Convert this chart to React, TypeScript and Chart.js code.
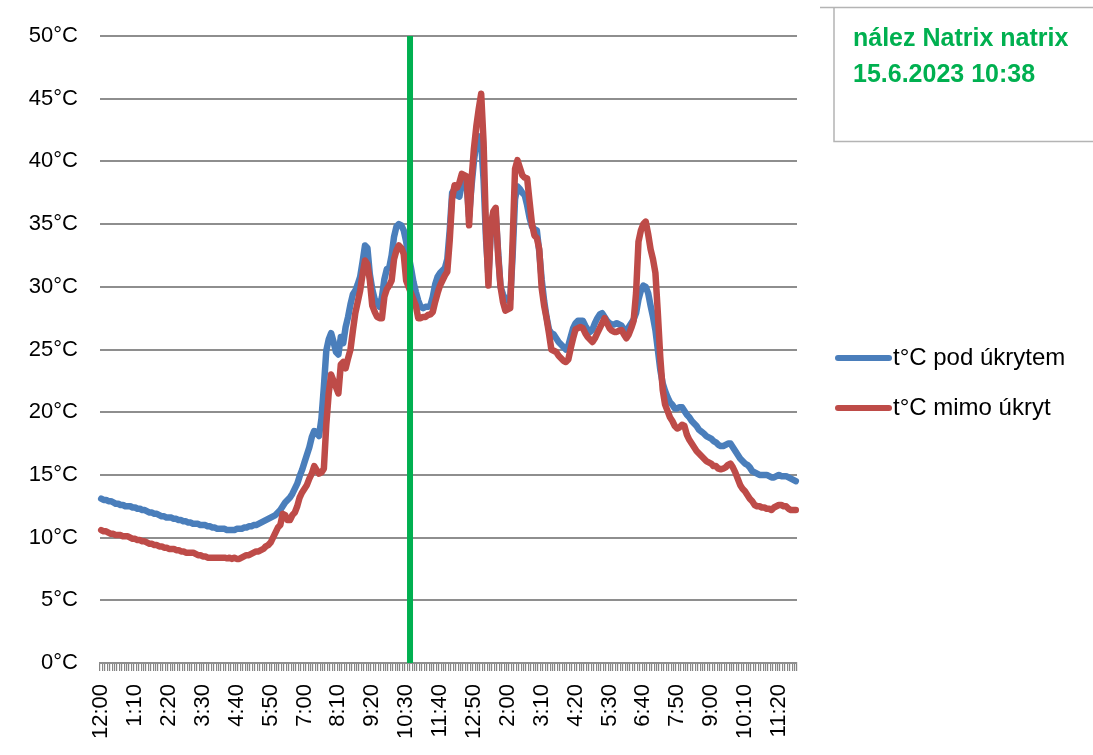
import React, { useEffect, useRef } from 'react';
import { Chart, registerables } from 'chart.js';

Chart.register(...registerables);

// Categories: every 5 minutes over one day (12-hour clock as in the source)
const TIME_LABELS: string[] = (() => {
  const out: string[] = [];
  for (let m = 0; m < 24 * 60; m += 5) {
    let h = Math.floor(m / 60) % 12;
    if (h === 0) h = 12;
    out.push(`${h}:${String(m % 60).padStart(2, '0')}`);
  }
  return out;
})();
const LABEL_EVERY = 14;

const SERIES_NAMES = ['t°C pod úkrytem', 't°C mimo úkryt'];

const POD_UKRYTEM: number[] = [
  13.1, 13.0, 13.0, 12.9, 12.9, 12.8, 12.7, 12.7, 12.6, 12.6,
  12.5, 12.5, 12.5, 12.4, 12.4, 12.3, 12.3, 12.2, 12.2, 12.1,
  12.0, 12.0, 11.9, 11.9, 11.8, 11.7, 11.7, 11.6, 11.6, 11.6,
  11.5, 11.5, 11.4, 11.4, 11.3, 11.3, 11.2, 11.2, 11.1, 11.1,
  11.1, 11.0, 11.0, 11.0, 10.9, 10.9, 10.8, 10.8, 10.7, 10.7,
  10.7, 10.7, 10.6, 10.6, 10.6, 10.6, 10.7, 10.7, 10.7, 10.8,
  10.8, 10.9, 10.9, 11.0, 11.0, 11.1, 11.2, 11.3, 11.4, 11.5,
  11.6, 11.7, 11.8, 12.0, 12.2, 12.5, 12.8, 13.0, 13.2, 13.5,
  13.9, 14.3, 14.9, 15.4, 16.0, 16.6, 17.2, 18.0, 18.5, 18.4,
  18.1, 19.5, 22.0, 24.9, 25.8, 26.3, 25.6, 24.8, 24.6, 26.0,
  25.5, 26.8, 27.6, 28.6, 29.4, 29.7, 30.2, 30.8, 32.0, 33.3,
  33.1, 31.0, 29.8, 29.0, 28.7, 28.4, 29.2, 30.6, 31.4, 31.5,
  32.5, 34.0, 34.8, 35.0, 34.9, 34.5, 33.6, 32.5, 31.5, 30.4,
  29.6, 28.9, 28.4, 28.3, 28.4, 28.4, 28.5, 29.2, 30.2, 30.8,
  31.1, 31.3, 31.5, 32.2, 34.5, 37.5, 37.8, 37.3, 37.2, 38.2,
  38.3, 38.2, 35.6, 38.0, 40.0, 41.5, 42.0, 41.5, 38.5, 33.8,
  30.8, 34.5, 35.8, 35.8, 32.8, 30.0, 29.4, 29.0, 28.9, 29.0,
  32.5, 37.0, 38.0, 37.8, 37.5, 37.3, 36.5, 35.5, 34.8, 34.6,
  34.5, 32.8, 30.6, 28.9, 27.6, 26.6, 26.3, 26.2, 25.9, 25.6,
  25.4, 25.2, 25.0, 25.3, 26.0, 26.7, 27.1, 27.3, 27.3, 27.3,
  26.9, 26.6, 26.4, 26.6, 27.1, 27.5, 27.8, 27.9, 27.6, 27.3,
  27.1, 27.0, 27.0, 27.1, 27.0, 26.9, 26.6, 26.4, 26.8, 27.1,
  27.4, 27.9, 29.0, 29.7, 30.1, 30.0, 29.5, 28.5, 27.6, 26.55,
  25.0, 23.4, 22.3, 21.7, 21.2, 20.8, 20.6, 20.3, 20.3, 20.4,
  20.4, 20.1, 19.8, 19.6, 19.3, 19.1, 18.9, 18.6, 18.45, 18.3,
  18.1, 18.0, 17.9, 17.7, 17.6, 17.4, 17.3, 17.3, 17.4, 17.5,
  17.5, 17.2, 16.9, 16.6, 16.3, 16.1, 15.9, 15.8, 15.6, 15.3,
  15.2, 15.1, 15.0, 15.0, 15.0, 15.0, 14.9, 14.8, 14.8, 14.9,
  15.0, 14.9, 14.9, 14.9, 14.8, 14.7, 14.6, 14.5,
];

const MIMO_UKRYT: number[] = [
  10.6, 10.5, 10.5, 10.4, 10.3, 10.3, 10.2, 10.2, 10.2, 10.1,
  10.1, 10.1, 10.0, 9.9, 9.9, 9.8, 9.8, 9.7, 9.7, 9.6,
  9.5, 9.5, 9.4, 9.4, 9.3, 9.3, 9.2, 9.2, 9.1, 9.1,
  9.1, 9.0, 9.0, 8.9, 8.9, 8.8, 8.8, 8.8, 8.8, 8.7,
  8.6, 8.6, 8.5, 8.5, 8.4, 8.4, 8.4, 8.4, 8.4, 8.4,
  8.4, 8.4, 8.35, 8.4, 8.3, 8.4, 8.3, 8.3, 8.4, 8.5,
  8.6, 8.6, 8.7, 8.8, 8.9, 8.9, 9.0, 9.1, 9.3, 9.4,
  9.6, 10.0, 10.4, 10.8, 11.0, 11.9, 11.8, 11.4, 11.4, 11.8,
  12.0, 12.5, 13.2, 13.6, 13.9, 14.2, 14.7, 15.1, 15.7, 15.4,
  15.1, 15.2, 15.5, 19.0, 21.5, 23.0, 22.5, 22.0, 21.5, 23.8,
  24.0, 23.5, 24.3, 25.0, 26.5, 27.9, 28.8, 29.7, 31.0, 32.1,
  31.8, 30.5, 28.5, 28.0, 27.6, 27.5, 27.5, 29.2, 29.8, 30.1,
  30.5, 32.2, 32.9, 33.3, 33.1, 32.6, 30.5, 30.0, 29.5, 29.0,
  28.5, 27.5, 27.5, 27.6, 27.6, 27.75, 27.8, 28.0, 28.8, 29.5,
  30.1, 30.5, 30.9, 31.2, 33.7, 37.0, 38.1, 37.9, 38.3, 39.0,
  38.9, 38.8, 34.9, 38.5, 41.0, 42.8, 44.2, 45.4, 41.5, 34.5,
  30.1, 34.9, 36.0, 36.3, 32.5, 30.0, 28.8, 28.1, 28.2, 28.3,
  33.6, 39.4, 40.1, 39.5, 38.9, 38.7, 38.65, 36.8, 35.0, 34.1,
  33.9, 33.0, 29.9, 28.5, 27.5, 26.3, 25.0, 24.9, 24.8, 24.5,
  24.3, 24.1, 24.0, 24.2, 25.1, 25.9, 26.6, 26.7, 26.8, 26.7,
  26.3, 26.0, 25.8, 25.6, 25.9, 26.3, 26.7, 27.1, 27.5, 27.1,
  26.7, 26.5, 26.4, 26.4, 26.5, 26.55, 26.2, 25.9, 26.2, 26.7,
  27.3, 29.5, 33.6, 34.5, 35.0, 35.2, 34.2, 33.0, 32.2, 31.1,
  27.9, 24.4, 21.8, 20.6, 20.1, 19.6, 19.3, 18.9, 18.7, 18.8,
  19.0, 18.9, 18.2, 17.8, 17.5, 17.2, 16.9, 16.7, 16.5, 16.3,
  16.1, 16.0, 15.9, 15.7, 15.7, 15.5, 15.45, 15.5, 15.6, 15.8,
  15.9, 15.6, 15.2, 14.7, 14.2, 13.9, 13.7, 13.4, 13.1, 12.9,
  12.6, 12.5, 12.5, 12.4, 12.4, 12.3, 12.3, 12.2, 12.4, 12.5,
  12.6, 12.6, 12.5, 12.5, 12.3, 12.2, 12.2, 12.2,
];

const Y_MIN = 0;
const Y_MAX = 50;
const Y_STEP = 5;

const FIND_TEXT = ['nález Natrix natrix', '15.6.2023 10:38'];
const FIND_HOUR = 10;
const FIND_MINUTE = 38;
const FIND_INDEX = (FIND_HOUR * 60 + FIND_MINUTE) / 5;

const BLUE = '#4a7ebb';
const RED = '#be4b48';
const GREEN = '#00b050';
const FONT = '"Liberation Sans", Arial, sans-serif';

const overlayPlugin = {
  id: 'overlay',
  afterDatasetsDraw(chart: any) {
    const { ctx, scales } = chart;
    const x = scales.x;
    const y = scales.y;
    const px = x.getPixelForValue(FIND_INDEX);
    ctx.save();
    ctx.strokeStyle = GREEN;
    ctx.lineWidth = 6;
    ctx.beginPath();
    ctx.moveTo(px, y.getPixelForValue(Y_MAX));
    ctx.lineTo(px, y.getPixelForValue(Y_MIN));
    ctx.stroke();
    ctx.restore();
  },
  afterDraw(chart: any) {
    const { ctx } = chart;
    ctx.save();
    // annotation box
    ctx.strokeStyle = '#b4b4b4';
    ctx.lineWidth = 1.5;
    ctx.beginPath();
    ctx.moveTo(820, 7.5);
    ctx.lineTo(1093, 7.5);
    ctx.moveTo(834, 7.5);
    ctx.lineTo(834, 141.5);
    ctx.lineTo(1093, 141.5);
    ctx.stroke();
    ctx.fillStyle = GREEN;
    ctx.font = `bold 25px ${FONT}`;
    ctx.textAlign = 'left';
    ctx.textBaseline = 'alphabetic';
    ctx.fillText(FIND_TEXT[0], 853, 46);
    ctx.fillText(FIND_TEXT[1], 853, 82);

    // legend
    const items = [
      { name: SERIES_NAMES[0], color: BLUE, y: 358 },
      { name: SERIES_NAMES[1], color: RED, y: 408 },
    ];
    ctx.lineCap = 'round';
    ctx.font = `24px ${FONT}`;
    ctx.textBaseline = 'middle';
    for (const it of items) {
      ctx.strokeStyle = it.color;
      ctx.lineWidth = 6;
      ctx.beginPath();
      ctx.moveTo(838, it.y);
      ctx.lineTo(889, it.y);
      ctx.stroke();
      ctx.fillStyle = '#000';
      ctx.fillText(it.name, 893, it.y);
    }
    ctx.restore();
  },
};

export default function App() {
  const canvasRef = useRef<HTMLCanvasElement | null>(null);

  useEffect(() => {
    const canvas = canvasRef.current;
    if (!canvas) return;
    const chart = new Chart(canvas, {
      type: 'line',
      data: {
        labels: TIME_LABELS,
        datasets: [
          {
            label: SERIES_NAMES[0],
            data: POD_UKRYTEM,
            borderColor: BLUE,
            backgroundColor: BLUE,
            borderWidth: 6.5,
            pointRadius: 0,
            tension: 0,
            order: 2,
            borderJoinStyle: 'round',
            borderCapStyle: 'round',
          },
          {
            label: SERIES_NAMES[1],
            data: MIMO_UKRYT,
            borderColor: RED,
            backgroundColor: RED,
            borderWidth: 6.5,
            pointRadius: 0,
            tension: 0,
            order: 1,
            borderJoinStyle: 'round',
            borderCapStyle: 'round',
          },
        ],
      },
      options: {
        responsive: false,
        animation: false,
        devicePixelRatio: 1,
        layout: { padding: { top: 36, right: 296, left: 0, bottom: 0 } },
        plugins: {
          legend: { display: false },
          tooltip: { enabled: false },
        },
        scales: {
          x: {
            type: 'category',
            offset: true,
            grid: {
              display: true,
              drawOnChartArea: false,
              drawTicks: true,
              tickLength: 8,
              offset: true,
              color: '#858585',
              lineWidth: 1.2,
            },
            border: { display: true, color: '#8e8e8e', width: 2 },
            ticks: {
              autoSkip: false,
              maxRotation: 90,
              minRotation: 90,
              padding: 13,
              color: '#000',
              font: { family: FONT, size: 22 },
              callback: (_v: any, i: number) => (i % LABEL_EVERY === 0 ? TIME_LABELS[i] : ''),
            },
            afterFit: (scale: any) => {
              scale.height = 92;
            },
          },
          y: {
            min: Y_MIN,
            max: Y_MAX,
            grid: {
              color: '#8e8e8e',
              lineWidth: 2,
              drawTicks: false,
            },
            border: { display: false },
            ticks: {
              stepSize: Y_STEP,
              padding: 22,
              color: '#000',
              font: { family: FONT, size: 22 },
              callback: (v: any) => `${v}°C`,
            },
            afterFit: (scale: any) => {
              scale.width = 100;
            },
          },
        },
      },
      plugins: [overlayPlugin],
    });
    return () => chart.destroy();
  }, []);

  return (
    <div style={{ position: 'fixed', left: 0, top: 0, width: 1093, height: 755, background: '#fff' }}>
      <canvas ref={canvasRef} width={1093} height={755} style={{ display: 'block' }} />
    </div>
  );
}
